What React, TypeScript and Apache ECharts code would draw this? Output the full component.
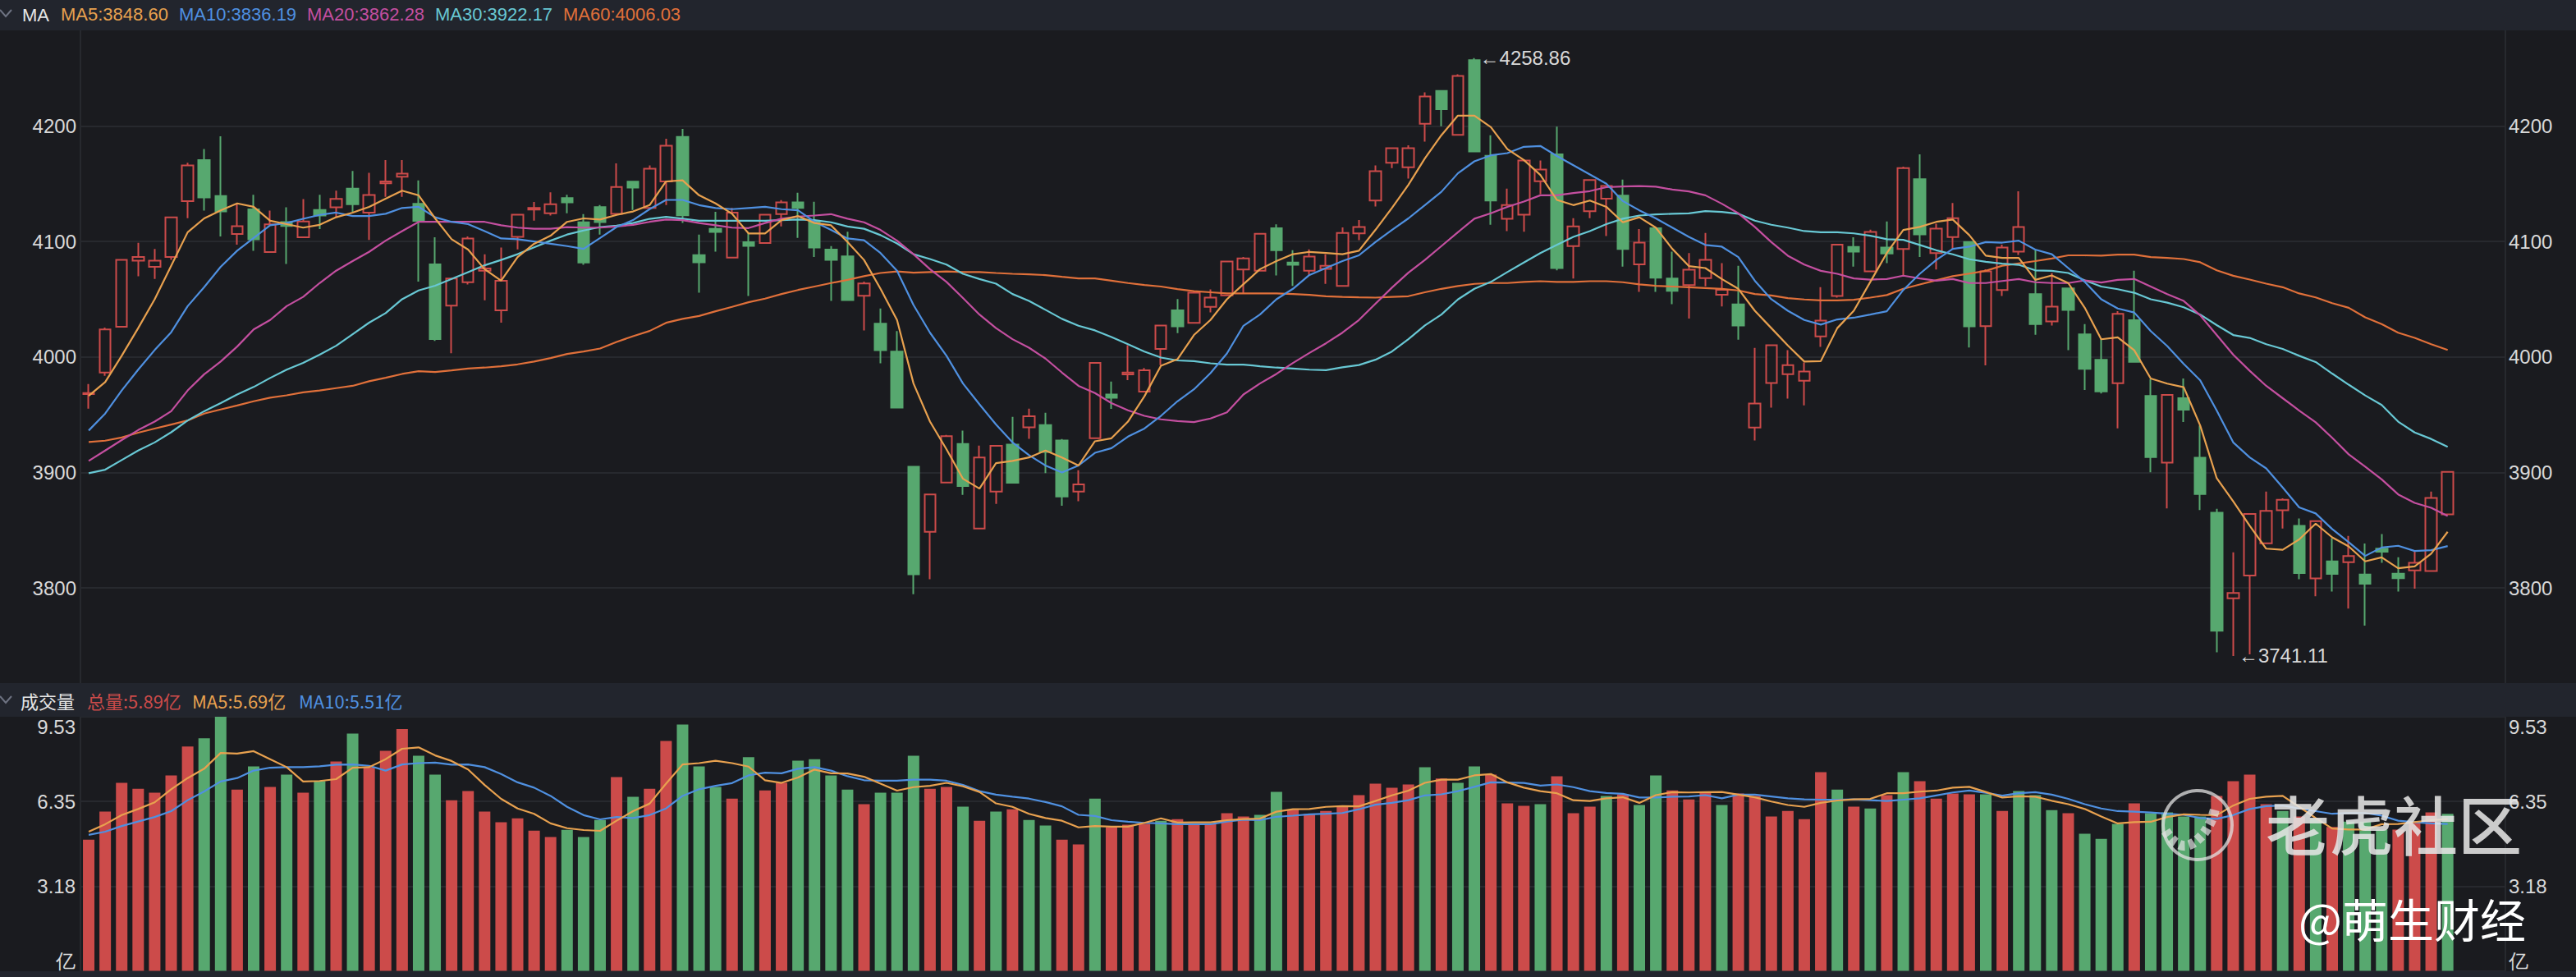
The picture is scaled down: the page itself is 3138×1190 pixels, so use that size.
import React, { useEffect, useRef } from "react";
import * as echarts from "echarts";

const categories = Array.from({ length: 147 }, (_, i) => String(i + 1));

// [open, close, low, high]
const candles: number[][] = [
  [3967.8,3968.8,3955.3,3976.6],[3986.5,4023.8,3983.7,4025.4],[4026.2,4084.1,4025.7,4084.4],[4083.4,4086.5,4069.9,4098.8],
  [4078,4083.4,4067.6,4093.6],[4086.5,4120.8,4084.1,4120.8],[4135,4165.8,4120.1,4168.2],[4170.5,4138.1,4126.7,4180],
  [4139.3,4126,4104.3,4191.1],[4106.4,4113.3,4097.2,4132.7],[4127.9,4101.9,4092,4140.5],[4090.8,4114.9,4090.8,4126.7],
  [4116.8,4113.5,4080.6,4129.6],[4103.6,4117.3,4103.6,4136.7],[4127.2,4122.5,4110.7,4140.5],[4129.6,4136.9,4120.8,4144],
  [4145.7,4132.2,4125.6,4161],[4124.9,4140.2,4101.4,4159.4],[4150.4,4152,4138.6,4170.5],[4156.1,4158.7,4138.6,4170.5],
  [4132.7,4117.8,4065.2,4152.8],[4080.1,4015.5,4013.8,4103.6],[4044.4,4068,4003.2,4068],[4064.7,4102.6,4062.8,4104.3],
  [4074.7,4076.6,4049.1,4088.9],[4040.4,4065.9,4029.7,4094.8],[4104,4123.2,4093.1,4123.2],[4127.7,4129.1,4118,4134.3],
  [4124.4,4132.2,4122.5,4142.6],[4137.6,4133.8,4124.4,4140.5],[4116.6,4081.8,4079.9,4123.7],[4129.8,4116.8,4105.9,4131.5],
  [4123.9,4147.1,4123.9,4167.7],[4151.8,4146.6,4127.2,4151.8],[4129.1,4163,4129.1,4165.8],[4151.9,4182.9,4131.5,4188.9],
  [4190.5,4122.7,4116.1,4197.4],[4088.2,4082,4055.7,4105.9],[4110.9,4108.3,4091.2,4125.6],[4086,4124.9,4086,4129.1],
  [4099.3,4096.2,4052.8,4107.8],[4098.6,4123.2,4098.6,4123.9],[4123.7,4133.9,4113,4135.8],[4133.9,4129.1,4103.1,4142.2],
  [4117.3,4094.8,4086.5,4134.4],[4092.9,4084.1,4048.6,4096],[4087.2,4049.3,4049.3,4108.5],[4053,4063.7,4023,4065.2],
  [4028.9,4005.9,3994.5,4041.9],[4004.7,3956.2,3955.7,4022.5],[3905,3811.8,3794.5,3905.5],[3848.6,3881,3807.6,3881],
  [3891.2,3931.5,3891.2,3932.5],[3924.6,3888.2,3880.6,3936.3],[3851.4,3913,3851.4,3923.2],[3883.4,3923,3872.7,3923],
  [3924.2,3891,3891,3948.1],[3939.1,3948.6,3929.1,3955.2],[3941,3917.8,3899.5,3951.7],[3927.7,3879.1,3871.1,3928.9],
  [3883.4,3889.6,3875.1,3901.9],[3929.6,3994.8,3929.6,3994.8],[3967.5,3964.7,3955,3978.7],[3985,3986.5,3979.9,4010.2],
  [3969.9,3988.4,3969.9,3990.5],[4006.9,4027.3,3992.9,4027.3],[4040.3,4026.5,4020.6,4050.2],[4029.6,4055.7,4029.6,4056.9],
  [4043.4,4051.4,4038.6,4058.5],[4053.3,4082.7,4053.3,4082.7],[4075.8,4085.3,4054.5,4086.5],[4074.6,4106.6,4074.6,4106.6],
  [4111.4,4092.4,4070.6,4114.9],[4081.8,4079.9,4061.6,4092.4],[4074.6,4087,4071.1,4093.1],[4076.3,4078.9,4063.3,4088.9],
  [4061.6,4107.3,4061.6,4112.1],[4107.1,4112.6,4101.2,4118.5],[4135.5,4160.9,4130.3,4165.9],[4168.2,4180.8,4163.5,4180.8],
  [4164.2,4180.8,4154.5,4183.2],[4201.9,4225.6,4186.5,4229.1],[4230.3,4214.5,4199.8,4230.3],[4192.4,4243.4,4192.4,4244.8],
  [4257.1,4178,4178,4258.86],[4174.2,4135.5,4114.5,4191.9],[4119.7,4131.5,4109,4145.7],[4123.2,4170.1,4108.5,4170.1],
  [4152.1,4162.3,4141,4170.1],[4175.4,4077,4075.1,4199.5],[4096,4113,4068,4120.1],[4126.3,4153.3,4120.1,4153.3],
  [4137,4148.1,4104.7,4148.1],[4139.8,4093.6,4078.2,4153.6],[4080.1,4099,4056.4,4110.7],[4111.4,4068.7,4056.4,4111.4],
  [4068,4057.3,4045.7,4091.2],[4062.3,4075.6,4033.2,4090],[4068.2,4084.1,4061.1,4107.3],[4053.8,4058.1,4043.8,4081.3],
  [4045.5,4027.3,4014.9,4078.9],[3938.9,3959.7,3927.7,4007.8],[3977.5,4010.2,3956.2,4010.2],[3985.1,3992.9,3964,4005.9],
  [3979.4,3987.4,3958.1,3995.3],[4017.8,4031.5,4008.8,4060.4],[4052.8,4097.2,4051.4,4097.2],[4095.3,4091.2,4078.2,4103.6],
  [4074.2,4108.3,4074.2,4110.2],[4094.8,4089.6,4081.3,4117.3],[4093.6,4163.5,4069.9,4164.7],[4154,4106.2,4086.5,4175.4],
  [4090,4111.1,4075.8,4115.4],[4103.8,4120.1,4093.6,4133.4],[4099.5,4026.5,4008.2,4099.8],[4026.7,4074.1,3992.8,4076],
  [4058,4094.8,4052.8,4097.2],[4091.2,4112.6,4088.4,4143.4],[4054.4,4028.4,4019.3,4092.4],[4030.7,4043.5,4027.2,4072.7],
  [4059.4,4040.7,4005.8,4059.4],[4019.6,3989.7,3971.4,4028.4],[3997.5,3970.2,3968.3,4015.3],[3977.3,4037.4,3938.2,4039.7],
  [4031.9,3995.8,3995.8,4074.6],[3966.2,3913.3,3900.2,3980.9],[3908.5,3967.1,3868.9,3967.1],[3964.3,3954.3,3943.7,3981.4],
  [3912.8,3881.3,3867.5,3940.6],[3865.2,3763,3744.3,3868.5],[3791,3795.7,3741.11,3830.8],[3810.7,3864,3742.4,3864],
  [3838.6,3866.8,3838.6,3883.4],[3867.3,3876.3,3851.4,3877.5],[3853.8,3812.8,3807.6,3860.2],[3808.3,3857.8,3792.7,3857.8],
  [3823,3812.1,3796.9,3843.1],[3822.3,3827.7,3782.2,3845],[3811.6,3803.6,3767.3,3838.4],[3834.1,3831.3,3821.8,3846.7],
  [3812.3,3808.5,3796.9,3826.5],[3815.2,3821.8,3799.3,3831.3],[3814.7,3878,3814.7,3883.4],[3863.7,3900.5,3863.7,3900.5],
];

const ma5 = [3966.4,3978.2,4001,4025,4050,4079,4108,4120,4127,4133,4130,4118,4115,4112,4114.4,4121,4125,4130,4137,4144,4140,4120,4102,4093,4076,4066,4086.5,4098,4105,4117,4120,4119,4123,4126,4131.5,4152,4153,4140,4133,4124,4107,4107,4118.5,4122,4116,4114,4099.5,4084,4059,4032,3977,3944,3920,3894.5,3886,3908,3910,3913,3919,3913,3906,3927,3929.6,3944,3966,3992.4,3998,4019,4032,4050,4063,4076,4083,4089,4091,4090,4089,4092,4110,4129,4149,4172,4192,4209,4209,4199,4180,4170.6,4157.6,4136,4131.5,4135.5,4130,4116.6,4121,4112,4093.6,4078.7,4077,4067.5,4059,4040,4025,4010,3996,3996.4,4025,4040,4065,4090,4110,4112.6,4117,4119,4105.5,4087.7,4085.8,4085.8,4066.8,4070.6,4064,4042.6,4015.3,4017,4005.8,3981.4,3976.9,3973.8,3940.6,3895,3875,3853.8,3834,3833,3842,3855.7,3843.8,3836,3823,3826.5,3817,3818.7,3829.6,3848.6];
const ma10 = [3936.3,3951,3971,3989,4006,4021.4,4044,4060.5,4078,4092,4103,4114,4116,4119.6,4123,4125,4122,4122,4124,4129,4130,4121,4117,4115,4109,4102.6,4102,4100,4098,4096,4093.6,4103,4112.5,4118.5,4128,4136,4136,4131.5,4129,4128,4129,4130,4128,4127,4117,4110,4102.6,4101,4090,4074.6,4045,4021,4001,3977,3959,3941.5,3926,3915,3906,3900,3906,3917,3921,3931,3938,3949,3961.6,3972,3986,4003,4027,4036.7,4050,4059,4071,4077,4083,4088,4099.5,4110,4120,4131.5,4143,4159,4169.4,4174.6,4176.5,4182,4182.7,4174,4166,4158,4150,4135,4127,4120,4112,4104,4097,4095.5,4086.5,4066,4050,4040,4032,4028,4032.5,4034,4036.7,4039.6,4058,4072,4084,4093.6,4095.5,4099.5,4099,4100.7,4093,4089,4077,4065,4050,4042,4038.5,4022.4,4009.4,3994,3979.7,3953.6,3926,3913,3903.5,3887,3869.7,3864.5,3851,3839.6,3827.7,3835,3836.5,3832,3832.7,3836.2];
const ma20 = [3910,3919,3928,3936.7,3944,3953,3971,3985,3996,4009,4023.8,4032,4044,4052,4064,4074.7,4083,4091,4100.7,4109,4117,4117,4117,4117,4117,4114,4112,4111,4111,4112.5,4112,4112,4113,4114.4,4117,4119,4118.5,4116,4114,4112,4111.6,4116,4119.7,4121.6,4122.5,4123.7,4119.7,4116.6,4110,4100.7,4089,4076,4065,4051,4036.7,4025,4015.4,4008,3998.6,3986.5,3975,3968.7,3960,3953.8,3949,3946,3944.5,3943.6,3946.7,3952,3967.5,3977,3985.3,3994.8,4003.5,4011.8,4021,4032,4046,4060,4073,4084,4096,4108,4119.7,4124.4,4130,4134.6,4140,4140,4142,4143.6,4147,4147.6,4148,4147.4,4145,4143.4,4140,4132.7,4124.4,4112.6,4099.5,4087.7,4080,4074.6,4072,4068,4067,4067.5,4070.4,4068,4066,4067.5,4064,4064,4065.8,4067.5,4064.7,4064,4064,4066.3,4064.4,4066.8,4067.5,4061,4054.4,4048.5,4036,4019,4002,3988,3975,3964.3,3953.6,3943.4,3930,3915.7,3905,3894,3881,3873.7,3869.4,3862.28];
const ma30 = [3899.3,3902.4,3910.7,3919,3926,3934.8,3945,3953,3960,3967.5,3974,3981.8,3989,3994.8,4002,4009.7,4019.7,4029.7,4038,4050,4057.6,4061.7,4067.6,4073.5,4079.4,4084,4089,4095,4100.7,4106,4109.5,4112.5,4113.7,4116,4119.6,4121.3,4119.7,4118,4118,4118,4118,4118,4118.5,4119,4118.5,4116.6,4113,4111,4105.5,4098.3,4089,4084.8,4080,4072,4067.5,4063.5,4054.5,4048.6,4040.8,4033,4027,4023,4017.3,4011,4004.7,3999.5,3997,3996.4,3994.5,3993.4,3993.4,3992,3990.8,3990,3989,3988.6,3991,3993,3997.6,4004.7,4015.4,4027.3,4036.7,4049.8,4059,4065,4073.5,4081.8,4090,4097,4104,4109,4115,4119.7,4122.5,4123.5,4124,4124.4,4126.3,4125.6,4124,4118,4114.5,4112,4109,4108,4108,4107,4105,4102,4101.4,4097,4092.4,4088.9,4084.6,4082.4,4080.8,4079.8,4075,4074.6,4072.7,4066.3,4061,4058.7,4055.6,4050,4047,4043,4036.7,4027.6,4019,4016.5,4011,4007,4001,3995.6,3985.6,3976,3966.7,3958.4,3944,3934.6,3929,3922.17];
const ma60 = [3926.3,3927.5,3930.3,3934.4,3938,3941.5,3945,3951,3954.5,3958,3961.6,3964.7,3966.8,3969.4,3971,3973,3975,3979,3982,3985.3,3987.7,3987,3988.4,3990,3990.8,3992,3993.6,3996,3999,4002.6,4004.7,4007.3,4013,4018,4022.5,4029.6,4033,4035.5,4039.6,4043.4,4047.4,4050.5,4054.5,4058,4061,4064,4066.8,4070,4072.7,4074,4073,4073.5,4074,4073.5,4073.5,4072.7,4072,4071.6,4070.9,4069.4,4068,4068,4066,4064,4062.3,4061,4058.8,4057,4056,4055,4055,4055,4055,4054.5,4053.8,4052.6,4052,4051.6,4051.4,4052,4052.6,4056,4059,4061.4,4063.3,4064,4064,4065,4065.6,4065,4065,4065.6,4065.6,4064.7,4062.8,4061.6,4061,4060.4,4059.7,4059,4057.6,4054.5,4053.3,4051,4049.8,4049,4049,4049.5,4051.4,4053.6,4059,4062.8,4066.4,4070,4072.2,4074.6,4079,4081,4083,4085.3,4088,4088,4087.7,4088.6,4088.6,4086.5,4085.8,4084.8,4082,4075,4070.3,4067,4063.5,4060.4,4055,4051.6,4046.6,4042.6,4034.3,4028.4,4021,4016.5,4011,4006.03];

const volumes = [4.92,5.97,7.05,6.83,6.68,7.33,8.41,8.72,9.53,6.8,7.67,6.9,7.36,6.68,7.12,7.85,8.9,7.64,8.25,9.07,8.07,7.36,6.4,6.74,5.97,5.57,5.72,5.26,5.02,5.29,5.02,5.66,7.27,6.53,6.83,8.62,9.24,7.67,6.9,6.46,8.01,6.77,7.05,7.88,7.94,7.33,6.8,6.25,6.68,6.68,8.07,6.83,6.9,6.16,5.63,5.97,6.06,5.66,5.45,4.92,4.74,6.46,5.39,5.48,5.51,5.63,5.69,5.51,5.51,5.91,5.79,5.85,6.71,6.04,5.88,6,6.16,6.59,7.02,6.87,6.99,7.64,7.21,7.05,7.67,7.36,6.28,6.19,6.25,7.3,5.91,6.16,6.56,6.62,6.22,7.33,6.77,6.43,6.68,6.22,6.65,6.56,5.79,6,5.69,7.45,6.8,6.16,6.09,6.59,7.45,7.11,6.46,6.65,6.62,6.62,6,6.74,6.59,6.03,5.91,5.14,4.95,5.51,6.28,5.91,5.94,5.79,5.79,6.56,7.11,7.36,6.25,6,5.79,5.7,5.4,5.6,5.6,5.3,5.3,5.6,5.94,5.89];
const volumeUp = "RRRRRRRGGRGRGRGRGRRRGGRRRRRRRGGGRGRRGGGRGRRGGGGRGGGRRGRGRGGRRGRRRGRRRRRGGRRRRRRRRGRGGRRRGRRRGRGGRRRGRRRRRRGRGRGRRRRGRGGGRGGGRGGGGRRRRGRGRGGGRRR";
const volMa5 = [5.22,5.5,5.84,6.07,6.32,6.81,7.23,7.58,8.17,8.15,8.24,7.94,7.64,7.1,7.12,7.19,7.62,7.64,7.94,8.33,8.38,8.08,7.87,7.55,6.97,6.45,6.09,5.89,5.53,5.35,5.28,5.25,5.63,5.99,6.27,7.02,7.74,7.79,7.88,7.79,7.66,7.15,7.05,7.25,7.55,7.41,7.4,7.28,7.02,6.76,6.89,6.94,7.05,6.92,6.71,6.28,6.15,5.89,5.73,5.63,5.38,5.43,5.41,5.41,5.55,5.72,5.56,5.57,5.57,5.65,5.69,5.71,5.97,6.06,6.07,6.15,6.18,6.17,6.37,6.58,6.76,7.05,7.17,7.17,7.33,7.38,7.07,6.87,6.74,6.66,6.4,6.37,6.47,6.51,6.3,6.59,6.7,6.69,6.7,6.71,6.61,6.51,6.35,6.22,6.15,6.3,6.39,6.43,6.45,6.66,6.66,6.72,6.76,6.87,6.9,6.71,6.5,6.55,6.53,6.38,6.25,6.07,5.79,5.53,5.58,5.59,5.77,5.87,5.85,5.84,6.2,6.45,6.53,6.56,6.15,5.73,5.34,5.3,5.3,5.5,5.51,5.58,5.65,5.69];
const volMa10 = [5.1,5.22,5.43,5.6,5.77,5.99,6.4,6.73,7.1,7.23,7.51,7.62,7.64,7.64,7.67,7.73,7.74,7.69,7.51,7.74,7.79,7.81,7.73,7.74,7.64,7.38,7.07,6.87,6.56,6.15,5.84,5.68,5.77,5.73,5.84,6.09,6.56,6.81,6.94,7.04,7.33,7.43,7.41,7.58,7.64,7.51,7.3,7.15,7.13,7.13,7.17,7.17,7.13,6.97,6.74,6.61,6.53,6.46,6.33,6.17,5.85,5.81,5.65,5.59,5.55,5.53,5.5,5.5,5.5,5.6,5.67,5.65,5.78,5.82,5.87,5.89,5.92,6.06,6.23,6.3,6.4,6.58,6.62,6.74,6.9,7.07,7.06,7.05,6.95,6.99,6.89,6.74,6.67,6.64,6.5,6.5,6.53,6.54,6.59,6.47,6.61,6.61,6.54,6.47,6.43,6.42,6.42,6.43,6.4,6.37,6.42,6.47,6.58,6.69,6.76,6.68,6.57,6.66,6.7,6.61,6.45,6.25,6.09,5.99,5.97,5.94,5.89,5.85,5.73,5.7,5.84,6.07,6.18,6.2,6.09,5.99,5.89,5.92,5.92,5.82,5.63,5.58,5.53,5.51];

const priceTicks = [3800, 3900, 4000, 4100, 4200];
const priceMarks = { high: 4258.86, low: 3741.11 };
const priceLegend = ["MA5:3848.60", "MA10:3836.19", "MA20:3862.28", "MA30:3922.17", "MA60:4006.03"];
const volLegend = ["总量:5.89亿", "MA5:5.69亿", "MA10:5.51亿"];

const BG = "#1a1b1f", STRIP = "#22252d", GRID = "#27292e", TXT = "#d9d9d9";
const RED = "#cc4b4a", GREEN = "#57a86f";
const C5 = "#e8a14f", C10 = "#4f90e0", C20 = "#c44fa0", C30 = "#68c8d4", C60 = "#e0703a";
const FONT = "'Liberation Sans', Arial, sans-serif";
const CJK = "'Noto Sans CJK SC', 'Liberation Sans', sans-serif";

const head = (text: string, x: number, y: number, fill: string, font = FONT, size = 22) => ({
  type: "text", x, y, z: 50, silent: true,
  style: { text, fill, font: `${size}px ${font}`, textVerticalAlign: "middle", textAlign: "left" },
});
const gear = (cx: number, cy: number) => ({
  type: "group", x: cx, y: cy, z: 50, silent: true,
  children: [
    { type: "ring", shape: { cx: 0, cy: 0, r: 10, r0: 5 }, style: { fill: "#8a93a8" } },
    ...[0, 45, 90, 135].map((a) => ({
      type: "rect", rotation: (a * Math.PI) / 180,
      shape: { x: -2.5, y: -13, width: 5, height: 26 }, style: { fill: "#8a93a8" },
    })),
    { type: "circle", shape: { cx: 0, cy: 0, r: 5 }, style: { fill: STRIP } },
  ],
});
const chevron = (y: number) => ({
  type: "polyline", z: 50, silent: true,
  shape: { points: [[0, y - 4], [7, y + 4], [14, y - 4]] },
  style: { stroke: "#6e7382", lineWidth: 2, fill: "none" },
});
const roundBtn = (cx: number, bars: number[][]) => ({
  type: "group", x: cx, y: 18, z: 50, silent: true,
  children: [
    { type: "circle", shape: { cx: 0, cy: 0, r: 12 }, style: { fill: "#8a93a8" } },
    ...bars.map((b) => ({ type: "rect", shape: { x: b[0], y: b[1], width: b[2], height: b[3] }, style: { fill: STRIP } })),
  ],
});

const line = (name: string, data: number[], color: string, xi: number, yi: number) => ({
  name, type: "line", data, xAxisIndex: xi, yAxisIndex: yi, symbol: "none", smooth: false, z: 5,
  lineStyle: { color, width: 2.2 }, itemStyle: { color },
});

export default function App() {
  const ref = useRef<HTMLDivElement>(null);
  useEffect(() => {
    document.body.style.margin = "0";
    document.body.style.background = BG;
    const chart = echarts.init(ref.current!, undefined, { renderer: "svg" });
    const labelBase = { color: TXT, fontSize: 24, fontFamily: FONT };
    const markLabel = (pos: string) => ({
      show: true, position: pos, distance: 6, color: TXT, fontSize: 24, fontFamily: FONT,
      formatter: (p: any) => "←" + Number(p.value).toFixed(2),
    });
    chart.setOption({
      animation: false,
      backgroundColor: BG,
      grid: [
        { left: 98, right: 86, top: 37, height: 795 },
        { left: 98, right: 86, top: 873, height: 309.5 },
      ],
      xAxis: [0, 1].map((g) => ({
        type: "category", gridIndex: g, data: categories, boundaryGap: true,
        axisLine: { show: false }, axisTick: { show: false }, axisLabel: { show: false }, splitLine: { show: false },
      })),
      yAxis: [
        ...(["left", "right"] as const).map((position) => ({
          type: "value", gridIndex: 0, position, min: 3717.6, max: 4282.8, scale: true,
          axisLine: { show: true, lineStyle: { color: GRID, width: 2 } }, axisTick: { show: false, customValues: priceTicks },
          axisLabel: { ...labelBase, margin: position === "left" ? 5 : 4, customValues: priceTicks, formatter: (v: number) => String(v) },
          splitLine: { show: position === "left", lineStyle: { color: GRID, width: 2 } },
        })),
        ...(["left", "right"] as const).map((position) => ({
          type: "value", gridIndex: 1, position, min: 0, max: 9.53, interval: 9.53 / 3,
          axisLine: { show: true, lineStyle: { color: GRID, width: 2 } }, axisTick: { show: false },
          axisLabel: {
            ...labelBase, margin: position === "left" ? 6 : 4,
            verticalAlignMinLabel: "bottom", verticalAlignMaxLabel: "top",
            formatter: (v: number) => (v === 0 ? "亿" : v.toFixed(2)),
          },
          splitLine: { show: position === "left", lineStyle: { color: GRID, width: 2 } },
        })),
      ],
      series: [
        {
          name: "K", type: "candlestick", data: candles, xAxisIndex: 0, yAxisIndex: 0, barWidth: 14, z: 3,
          itemStyle: { color: BG, color0: GREEN, borderColor: RED, borderColor0: GREEN, borderWidth: 2 },
          markPoint: {
            symbol: "circle", symbolSize: 1, itemStyle: { color: "transparent" }, silent: true, animation: false,
            data: [
              { coord: [84, priceMarks.high], value: priceMarks.high, label: markLabel("right") },
              { coord: [130, priceMarks.low], value: priceMarks.low, label: markLabel("right") },
            ],
          },
        },
        line("MA60", ma60, C60, 0, 0),
        line("MA30", ma30, C30, 0, 0),
        line("MA20", ma20, C20, 0, 0),
        line("MA10", ma10, C10, 0, 0),
        line("MA5", ma5, C5, 0, 0),
        {
          name: "VOL", type: "bar", xAxisIndex: 1, yAxisIndex: 2, barWidth: 14, z: 3,
          data: volumes.map((v, i) => ({ value: v, itemStyle: { color: volumeUp[i] === "R" ? RED : GREEN } })),
        },
        line("VMA10", volMa10, C10, 1, 2),
        line("VMA5", volMa5, C5, 1, 2),
      ],
      graphic: [
        { type: "rect", z: 40, silent: true, shape: { x: 0, y: 0, width: 3138, height: 37 }, style: { fill: STRIP } },
        { type: "rect", z: 40, silent: true, shape: { x: 0, y: 832, width: 3138, height: 41 }, style: { fill: STRIP } },
        { type: "rect", z: 40, silent: true, shape: { x: 0, y: 1183, width: 3138, height: 7 }, style: { fill: STRIP } },
        chevron(16),
        head("MA", 27, 18, "#e6e6e6"),
        head(priceLegend[0], 74, 17, C5),
        head(priceLegend[1], 218, 17, C10),
        head(priceLegend[2], 374, 17, C20),
        head(priceLegend[3], 530, 17, C30),
        head(priceLegend[4], 686, 17, C60),
        roundBtn(3014, [[-8, -6, 16, 3], [-8, 3, 16, 3]]),
        roundBtn(3054, [[-8, -1.5, 16, 3], [-1.5, -8, 3, 16]]),
        roundBtn(3094, [[-8, -1.5, 16, 3]]),
        gear(3134, 18),
        chevron(852),
        head("成交量", 25, 853, "#e6e6e6", CJK),
        head(volLegend[0], 106, 853, RED, CJK),
        head(volLegend[1], 234, 853, C5, CJK),
        head(volLegend[2], 364, 853, C10, CJK),
        gear(3134, 853),
        { type: "circle", z: 60, silent: true, shape: { cx: 2677, cy: 1005, r: 42 }, style: { fill: "none", stroke: "rgba(225,225,225,0.75)", lineWidth: 4 } },
        { type: "polyline", z: 60, silent: true, shape: { points: [[2638, 1012], [2650, 1026], [2664, 1030], [2680, 1020], [2692, 1003], [2698, 986]], smooth: 0.4 }, style: { fill: "none", stroke: "rgba(225,225,225,0.7)", lineWidth: 12, lineDash: [7, 5] } },
        {
          type: "text", z: 60, silent: true, x: 2760, y: 1002,
          style: { text: "老虎社区", fill: "rgba(228,228,228,0.88)", font: `500 78px ${CJK}`, textVerticalAlign: "middle", shadowBlur: 4, shadowColor: "rgba(0,0,0,0.5)" },
        },
        {
          type: "text", z: 60, silent: true, x: 2800, y: 1117,
          style: { text: "@萌生财经", fill: "#ffffff", font: `400 56px ${CJK}`, textVerticalAlign: "middle" },
        },
      ],
    });
    return () => chart.dispose();
  }, []);
  return <div ref={ref} style={{ position: "absolute", left: 0, top: 0, width: 3138, height: 1190 }} />;
}
